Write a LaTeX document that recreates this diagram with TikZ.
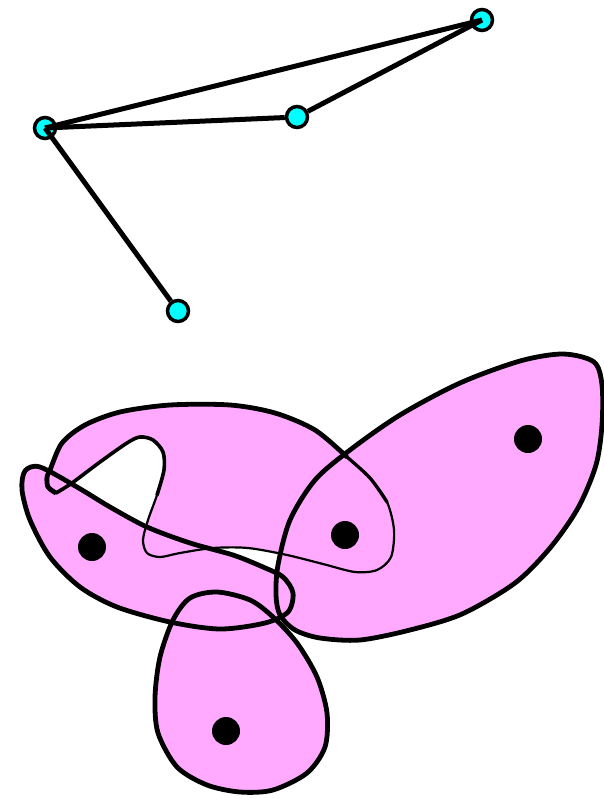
\documentclass[tikz,border=0pt]{standalone}
\usepackage{tikz}
\usetikzlibrary{arrows.meta, positioning}
\usepackage{xcolor}
\definecolor{blobPink}{RGB}{255,170,255}
\definecolor{vertexCyan}{RGB}{0,255,255}

% outlines of the four sets
\newcommand{\rightSet}{plot[smooth cycle] coordinates {(563,354) (594,362) (602,385) (602,425) (596,465) (578,508) (550,548) (515,583) (462,614) (410,630) (360,640) (320,638) (295,630) (280,615) (276,595) (278,565) (290,520) (315,480) (350,450) (400,415) (460,383) (520,361)}}
\newcommand{\bottomSet}{plot[smooth cycle] coordinates {(217,592) (250,600) (273,617) (297,643) (317,677) (327,713) (325,747) (307,773) (273,790) (240,792) (207,785) (177,767) (158,733) (155,697) (160,657) (173,620) (190,598)}}
\newcommand{\lobeSet}{plot[smooth cycle] coordinates {(25,471) (40,467) (77,487) (110,507) (147,527) (190,543) (233,555) (263,567) (283,577) (293,593) (288,612) (265,623) (220,629) (170,622) (117,607) (80,587) (50,557) (30,520) (22,490)}}
\newcommand{\upperSet}{plot[smooth cycle] coordinates {(50,470) (62,443) (85,425) (120,412) (170,405) (230,405) (275,413) (315,430) (347,457) (370,478) (387,502) (394,530) (391,557) (377,570) (355,572) (323,564) (287,555) (248,548) (213,548) (180,553) (160,557) (147,553) (143,540) (148,520) (157,495) (164,470) (163,452) (153,440) (140,437) (127,443) (100,462) (72,483) (56,493) (48,487) (47,477)}}

\begin{document}
\begin{tikzpicture}[
    x=1pt, y=-1pt,
    vertex/.style={
        circle,
        draw=black,
        line width=3.5pt,
        fill=vertexCyan,
        minimum size=21pt,
        inner sep=0pt
    },
    link/.style={
        line width=5pt
    },
    member/.style={
        circle,
        fill=black,
        minimum size=28pt,
        inner sep=0pt
    },
    setFill/.style={
        fill=blobPink,
        draw=none
    },
    setLine/.style={
        line width=4.8pt,
        line join=round
    }
]
\useasboundingbox (0,0) rectangle (604,798);

% Graph
\node[vertex] (hub) at (45,128) {};
\node[vertex] (tip) at (482,20) {};
\node[vertex] (mid) at (297,117) {};
\node[vertex] (low) at (178,311) {};

\draw[link] (hub.center) -- (tip.center);
\draw[link] (hub.center) -- (mid);
\draw[link] (mid) -- (tip.center);
\draw[link] (hub.center) -- (low);

% Sets
\fill[setFill] \rightSet;
\fill[setFill] \bottomSet;
\fill[setFill] \lobeSet;
\fill[setFill] \upperSet;

\draw[setLine] \rightSet;
\draw[setLine] \bottomSet;
\draw[setLine] \lobeSet;
\draw[line width=2.2pt] \upperSet;
\draw[setLine] plot[smooth] coordinates {(56,493) (48,487) (47,477) (50,470) (62,443) (85,425) (120,412) (170,405) (230,405) (275,413) (315,430) (347,457)};
\draw[line width=3.3pt, line cap=round] plot[smooth] coordinates {(347,457) (370,478) (387,502)};
\draw[line width=3.6pt, line cap=round] plot[smooth] coordinates {(157,495) (164,470) (163,452) (153,440) (140,437) (127,443) (100,462) (72,483) (56,493)};

% Members
\node[member] (memL) at (92,547) {};
\node[member] (memM) at (345,535) {};
\node[member] (memR) at (528,439) {};
\node[member] (memB) at (226,731) {};

\end{tikzpicture}
\end{document}
